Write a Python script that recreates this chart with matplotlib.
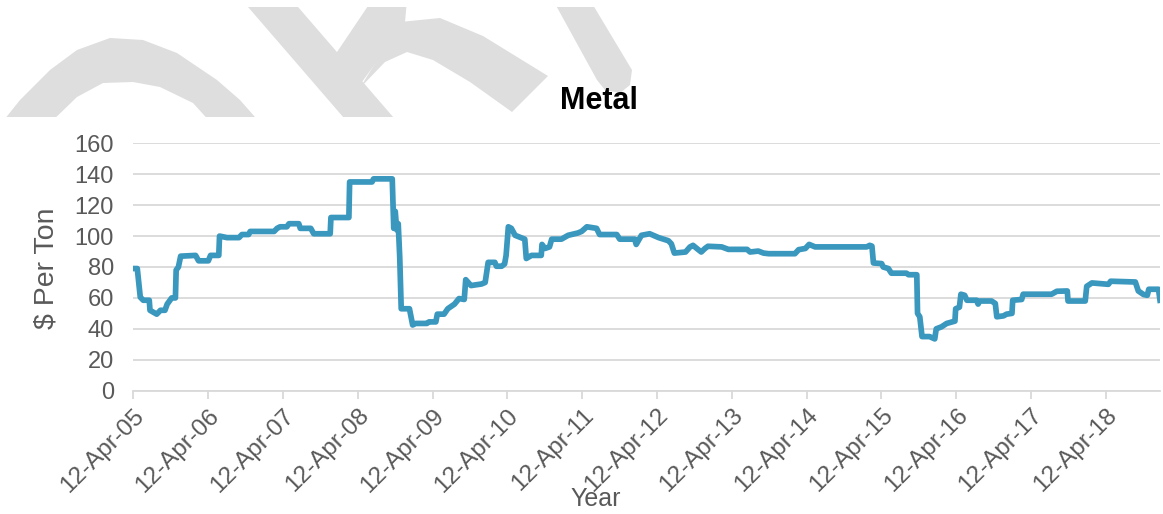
import matplotlib

matplotlib.use("Agg")
import matplotlib.dates as mdates
import matplotlib.pyplot as plt
import pandas as pd
from matplotlib.patches import Polygon, Rectangle

# decimal years, with the $/ton value at each step
years = [
    2005.277, 2005.33, 2005.37, 2005.41, 2005.49, 2005.50, 2005.59, 2005.64, 2005.70, 2005.73,
    2005.79, 2005.84, 2005.85, 2005.88, 2005.91, 2006.11, 2006.15, 2006.28, 2006.31, 2006.42,
    2006.43, 2006.53, 2006.69, 2006.73, 2006.82, 2006.84, 2007.16, 2007.20, 2007.24, 2007.33,
    2007.36, 2007.49, 2007.51, 2007.65, 2007.69, 2007.91, 2007.92, 2008.16, 2008.17, 2008.47,
    2008.49, 2008.74, 2008.76, 2008.78, 2008.80, 2008.82, 2008.84, 2008.86, 2008.97, 2009.01,
    2009.05, 2009.20, 2009.23, 2009.32, 2009.34, 2009.43, 2009.48, 2009.57, 2009.63, 2009.70,
    2009.72, 2009.79, 2009.93, 2009.98, 2010.02, 2010.11, 2010.13, 2010.20, 2010.24, 2010.26,
    2010.29, 2010.33, 2010.38, 2010.46, 2010.51, 2010.53, 2010.60, 2010.73, 2010.74, 2010.78,
    2010.84, 2010.87, 2011.00, 2011.09, 2011.22, 2011.27, 2011.34, 2011.47, 2011.51, 2011.74,
    2011.78, 2011.98, 2012.00, 2012.07, 2012.18, 2012.25, 2012.30, 2012.43, 2012.47, 2012.51,
    2012.66, 2012.72, 2012.76, 2012.81, 2012.87, 2012.92, 2012.96, 2013.14, 2013.23, 2013.48,
    2013.52, 2013.63, 2013.70, 2013.77, 2014.12, 2014.17, 2014.26, 2014.31, 2014.39, 2015.08,
    2015.12, 2015.15, 2015.17, 2015.28, 2015.30, 2015.37, 2015.41, 2015.61, 2015.64, 2015.75,
    2015.76, 2015.79, 2015.82, 2015.92, 2015.99, 2016.01, 2016.08, 2016.15, 2016.26, 2016.27,
    2016.32, 2016.34, 2016.39, 2016.42, 2016.55, 2016.57, 2016.59, 2016.75, 2016.80, 2016.82,
    2016.91, 2016.95, 2017.02, 2017.03, 2017.15, 2017.17, 2017.55, 2017.62, 2017.76, 2017.77,
    2018.00, 2018.02, 2018.09, 2018.31, 2018.34, 2018.67, 2018.71, 2018.78, 2018.83, 2018.85,
    2018.98, 2019.00,
]
prices = [
    79, 79, 60.5, 58.5, 58.5, 52, 49.5, 52, 52, 56,
    60, 60, 78, 80, 87, 87.5, 84, 84, 87.5, 87.5,
    100, 99, 99, 101, 101, 103, 103, 105, 106, 106,
    108, 108, 105, 105, 101.5, 101.5, 112, 112, 135, 135,
    137, 137, 105, 116, 104, 108, 86.5, 53, 53, 42.5,
    43.5, 43.5, 44.5, 44.5, 49.5, 49.5, 53, 56, 59.6, 59,
    71.8, 68, 69, 70, 83, 83, 80.5, 80.5, 82, 87.5,
    106, 105, 100.5, 99, 98, 85.5, 87.5, 87.5, 94.6, 92,
    93, 98, 98, 100.5, 102, 103, 106, 105, 101, 101,
    98, 98, 94.6, 100.5, 101.5, 100, 99, 97, 95, 89,
    89.7, 93, 94, 92, 89.7, 92, 93.4, 93, 91.4, 91.4,
    89.7, 90.3, 89, 88.6, 88.6, 91.2, 92, 94.6, 93, 93,
    94, 93.5, 82.6, 82.2, 80, 79, 76, 76, 75, 75,
    50, 47.8, 35, 35, 33.5, 40, 41.3, 43.5, 45, 53,
    54, 62.4, 61.7, 58.5, 58.5, 56, 58, 58, 56.4, 47.8,
    48.4, 49.5, 50, 58.5, 59, 62.4, 62.4, 64.3, 64.5, 58,
    58, 67.5, 69.7, 68.8, 70.8, 70.3, 64.5, 62.2, 61.7, 65.6,
    65.6, 58.5,
]
tick_years = list(range(2005, 2019))
y_ticks = [0, 20, 40, 60, 80, 100, 120, 140, 160]

W, H = 1163, 514
LINE = "#3A97BE"
GRID = "#D9D9D9"
TEXT = "#595959"
WATERMARK = "#DEDEDE"

plt.rcParams["font.family"] = ["Liberation Sans", "DejaVu Sans"]


def to_date(y):
    base = int(y)
    return pd.Timestamp(base, 1, 1) + pd.Timedelta(days=(y - base) * 365.0)


dates = [to_date(y) for y in years]

fig = plt.figure(figsize=(W / 100, H / 100), dpi=100)
ax = fig.add_axes([133.3 / W, 1 - 390.7 / H, (1160 - 133.3) / W, 247.4 / H])
ax.set_facecolor("none")

ax.plot(dates, prices, color=LINE, lw=4.1, solid_joinstyle="round", zorder=3)

ax.set_ylim(0, 160)
ax.set_yticks(y_ticks)
ax.set_xlim(dates[0], dates[-1])
ax.set_xticks([pd.Timestamp(y, 4, 12) for y in tick_years])
ax.xaxis.set_major_formatter(mdates.DateFormatter("%d-%b-%y"))

ax.grid(axis="y", color=GRID, lw=1.3)
ax.set_axisbelow(True)
for side in ["left", "right", "top"]:
    ax.spines[side].set_visible(False)
ax.spines["bottom"].set_color(GRID)
ax.spines["bottom"].set_linewidth(1.3)
ax.tick_params(axis="y", length=0, labelsize=17, labelcolor=TEXT, pad=14)
ax.tick_params(axis="x", length=6, width=1.3, color=GRID, labelsize=17.5,
               labelcolor=TEXT, pad=4)
for lbl in ax.get_xticklabels():
    lbl.set_rotation(45)
    lbl.set_ha("right")
    lbl.set_va("top")
    lbl.set_rotation_mode("anchor")

fig.text(46 / W, 1 - 268 / H, "$ Per Ton", rotation=90, ha="center", va="center",
         fontsize=20.5, color=TEXT)
fig.text(596 / W, 1 - 499 / H, "Year", ha="center", va="center",
         fontsize=18, color=TEXT)
fig.text(599 / W, 1 - 101 / H, "Metal", ha="center", va="center",
         fontsize=22, fontweight="bold", color="black")

# grey logo watermark across the top, cut off above the plot
arch = [(0, 125), (20, 100), (50, 70), (77, 50), (110, 38), (143, 40), (177, 53),
        (217, 80), (240, 100), (262, 125), (213, 125), (193, 103), (160, 87),
        (133, 82), (103, 83), (77, 97), (48, 125)]
band = [(242, 0), (292, 0), (400, 125), (350, 125)]
stem = [(372, 0), (407, 0), (405, 22), (362, 82), (335, 55)]
curve = [(400, 22), (440, 18), (483, 36), (548, 76), (512, 112), (470, 82),
         (433, 60), (407, 52), (385, 62), (360, 88)]
right = [(553, 0), (590, 0), (632, 70), (630, 85), (620, 93), (605, 90), (597, 80)]
clip = Rectangle((0, 1 - 117 / H), 1, 110 / H, transform=fig.transFigure)
for shape in [arch, band, stem, curve, right]:
    poly = Polygon([(x / W, 1 - y / H) for x, y in shape], closed=True,
                   transform=fig.transFigure, facecolor=WATERMARK, lw=0, zorder=0)
    fig.add_artist(poly)
    poly.set_clip_path(clip)

fig.savefig("out.png", dpi=100)
